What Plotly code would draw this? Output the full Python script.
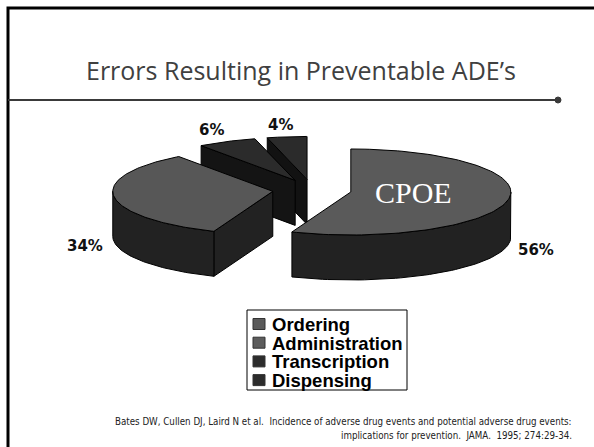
import numpy as np
import plotly.graph_objects as go

# ---- data ----
categories = ["Ordering", "Administration", "Transcription", "Dispensing"]
values = [56, 34, 6, 4]
pct_labels = ["56%", "34%", "6%", "4%"]
callout_text = "CPOE"          # written on the Ordering slice
title_text = "Errors Resulting in Preventable ADE\u2019s"
citation_lines = [
    "Bates DW, Cullen DJ, Laird N et al.\u00a0\u00a0Incidence of adverse drug events and potential adverse drug events:",
    "implications for prevention.\u00a0\u00a0JAMA.\u00a0\u00a01995; 274:29-34.",
]

# ---- style ----
top_colors = ["#5a5a5a", "#575757", "#2b2b2b", "#2b2b2b"]
side_colors = ["#222222", "#222222", "#141414", "#121212"]
legend_colors = ["#5a5a5a", "#5c5c5c", "#2c2c2c", "#2c2c2c"]

W, H = 594, 447
CX, CY = 312, 190          # pie centre (pixels)
RX, RY = 160, 43           # ellipse radii
DEPTH = 45                 # 3-D thickness
EXPLODE = 0.247            # explosion as fraction of radius
LABEL_K = 1.18

fig = go.Figure()


def ell(ax, ay, deg, r=1.0, dz=0.0):
    t = np.radians(deg)
    return ax + r * RX * np.cos(t), ay - r * RY * np.sin(t) + dz


def poly(xs, ys, fill):
    fig.add_trace(go.Scatter(
        x=list(xs), y=list(ys), mode="lines", fill="toself",
        fillcolor=fill, line=dict(color="black", width=1),
        hoverinfo="skip", showlegend=False))


total = float(sum(values))
slices = []
cum = 0.0
for i, v in enumerate(values):
    hi = 90 - cum / total * 360
    cum += v
    lo = 90 - cum / total * 360
    mid = (lo + hi) / 2
    ax, ay = ell(CX, CY, mid, EXPLODE)
    slices.append(dict(i=i, lo=lo, hi=hi, mid=mid, ax=ax, ay=ay))

# painter's order: back slices first
order = sorted(slices, key=lambda s: -np.sin(np.radians(s["mid"])))

for s in order:
    i, lo, hi, ax, ay = s["i"], s["lo"], s["hi"], s["ax"], s["ay"]
    # radial faces
    for edge, nrm in ((lo, lo - 90), (hi, hi + 90)):
        if np.sin(np.radians(nrm)) < -1e-6:
            ex, ey = ell(ax, ay, edge)
            poly([ax, ex, ex, ax, ax], [ay, ey, ey + DEPTH, ay + DEPTH, ay], side_colors[i])
    # curved outer side (front half only)
    for k in (-1, 0, 1):
        a0 = max(lo, 180 + 360 * k)
        a1 = min(hi, 360 + 360 * k)
        if a1 > a0:
            ts = np.linspace(a0, a1, 60)
            tx, ty = ell(ax, ay, ts)
            bx, by = ell(ax, ay, ts[::-1], dz=DEPTH)
            poly(np.r_[tx, bx, tx[:1]], np.r_[ty, by, ty[:1]], side_colors[i])
    # top face
    ts = np.linspace(lo, hi, 120)
    tx, ty = ell(ax, ay, ts)
    poly(np.r_[ax, tx, ax], np.r_[ay, ty, ay], top_colors[i])

annotations = []
# percentage labels
for s in slices:
    sn = np.sin(np.radians(s["mid"]))
    lx, ly = ell(s["ax"], s["ay"], s["mid"], LABEL_K)
    if sn < 0:
        ly += DEPTH + 3
    else:
        ly -= 4
        lx -= 3
    annotations.append(dict(x=lx, y=ly, text=pct_labels[s["i"]], showarrow=False,
                            xanchor="center", yanchor="middle",
                            font=dict(family="DejaVu Sans", size=15, color="#111111",
                                      weight="bold"),
                            xref="x", yref="y"))
# callout on largest slice
s0 = slices[0]
cx_, cy_ = ell(s0["ax"], s0["ay"], s0["mid"], 0.4)
annotations.append(dict(x=cx_, y=cy_ - 3, text=callout_text, showarrow=False,
                        font=dict(family="Liberation Serif", size=30, color="white"),
                        xanchor="center", yanchor="middle", xref="x", yref="y"))

# title
annotations.append(dict(x=301, y=70, text=title_text, showarrow=False,
                        font=dict(family="Open Sans", size=25, color="#404040"),
                        xanchor="center", yanchor="middle", xref="x", yref="y"))

# citation
for j, line in enumerate(citation_lines):
    annotations.append(dict(x=574, y=421 + 14 * j, text=line, showarrow=False,
                            font=dict(family="DejaVu Sans Condensed, DejaVu Sans", size=9.7,
                                      color="#222222"),
                            xanchor="right", yanchor="middle", xref="x", yref="y"))

shapes = []
# slide border
shapes.append(dict(type="path", path="M 8 447 L 8 8 L 594 8", xref="x", yref="y",
                   line=dict(color="black", width=3)))
# rule under the title
shapes.append(dict(type="line", x0=8, x1=558, y0=100, y1=100, xref="x", yref="y",
                   line=dict(color="#3a3a3a", width=2)))
shapes.append(dict(type="circle", x0=555, x1=561, y0=97, y1=103, xref="x", yref="y",
                   fillcolor="#3a3a3a", line=dict(color="#3a3a3a", width=1)))

# legend box
shapes.append(dict(type="rect", x0=247, x1=407, y0=310, y1=390, xref="x", yref="y",
                   line=dict(color="black", width=1), fillcolor="white"))
for i, cat in enumerate(categories):
    yy = 324 + i * 18.7
    shapes.append(dict(type="rect", x0=253, x1=265, y0=yy - 5.5, y1=yy + 5.5,
                       xref="x", yref="y", fillcolor=legend_colors[i],
                       line=dict(color="#333333", width=1)))
    annotations.append(dict(x=270, y=yy + 0.5, text=cat, showarrow=False,
                            xanchor="left", yanchor="middle",
                            font=dict(family="Liberation Sans", size=18.5, color="black",
                                      weight="bold"),
                            xref="x", yref="y"))

fig.update_layout(
    width=W, height=H, margin=dict(l=0, r=0, t=0, b=0),
    paper_bgcolor="white", plot_bgcolor="white",
    xaxis=dict(range=[0, W], visible=False, fixedrange=True),
    yaxis=dict(range=[H, 0], visible=False, fixedrange=True),
    shapes=shapes, annotations=annotations, showlegend=False,
)

fig.write_html("out.html")
